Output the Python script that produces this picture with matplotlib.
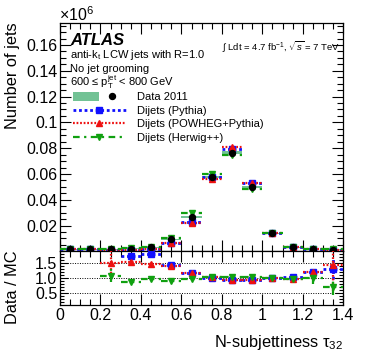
import numpy as np
import matplotlib
matplotlib.use('Agg')
import matplotlib.pyplot as plt
from matplotlib.patches import Patch
from matplotlib.lines import Line2D
from matplotlib.legend_handler import HandlerTuple
from matplotlib.ticker import MultipleLocator, FuncFormatter

plt.rcParams['font.family'] = ['Liberation Sans', 'DejaVu Sans']
plt.rcParams['mathtext.fontset'] = 'custom'
plt.rcParams['mathtext.rm'] = 'Liberation Sans'
plt.rcParams['mathtext.it'] = 'Liberation Sans:italic'
plt.rcParams['mathtext.bf'] = 'Liberation Sans:bold'

# bin centres of tau32 (width 0.1), counts in units of 1e6 jets
tau32 = np.arange(0.05, 1.4, 0.1)
data = [0.0015, 0.0015, 0.0016, 0.0019, 0.0030, 0.0092, 0.0265, 0.0575, 0.0766, 0.0497, 0.0141, 0.0031, 0.0018, 0.0014]
data_syst = [0.0002, 0.0002, 0.0002, 0.0003, 0.0004, 0.0006, 0.0009, 0.0010, 0.0010, 0.0008, 0.0004, 0.0002, 0.0002, 0.0002]
pythia = [0.0015, 0.0015, 0.0008, 0.0011, 0.0017, 0.0066, 0.0230, 0.0580, 0.0792, 0.0533, 0.0141, 0.0030, 0.0015, 0.0011]
powheg = [0.0015, 0.0015, 0.0011, 0.0012, 0.0020, 0.0065, 0.0223, 0.0564, 0.0807, 0.0528, 0.0141, 0.0031, 0.0015, 0.0010]
herwig = [0.0015, 0.0015, 0.0015, 0.0022, 0.0033, 0.0102, 0.0296, 0.0600, 0.0748, 0.0482, 0.0141, 0.0032, 0.0018, 0.0019]

# Data / MC ratios
r_pythia = [np.nan, np.nan, np.nan, 1.74, 1.80, 1.44, 1.17, 1.02, 0.95, 0.93, 1.00, 1.03, 1.20, 1.31]
r_powheg = [np.nan, np.nan, 1.50, 1.53, 1.47, 1.41, 1.17, 1.03, 0.95, 0.94, 1.00, 0.97, 1.22, 1.44]
r_herwig = [np.nan, np.nan, 1.09, 0.87, 0.97, 0.92, 0.97, 1.03, 1.04, 1.05, 1.00, 0.98, 1.00, 0.72]
e_pythia = [0, 0, 0, 0.05, 0.06, 0.03, 0.02, 0.01, 0.01, 0.01, 0.01, 0.03, 0.06, 0.35]
e_powheg = [0, 0, 0.45, 0.10, 0.06, 0.03, 0.02, 0.01, 0.01, 0.01, 0.01, 0.03, 0.08, 0.85]
e_herwig = [0, 0, 0.22, 0.05, 0.03, 0.02, 0.02, 0.01, 0.01, 0.01, 0.01, 0.03, 0.18, 0.28]

BLUE = '#1010ff'
RED = '#ee1010'
GREEN = '#10a010'
BAND = '#72c295'

styles = {
    'pythia': dict(color=BLUE, marker='s', ms=4.5, ls=(0, (1, 1)), lw=2.0),
    'powheg': dict(color=RED, marker='^', ms=4.5, ls=(0, (0.8, 0.8)), lw=1.6),
    'herwig': dict(color=GREEN, marker='v', ms=5, ls=(0, (3, 2, 1, 2)), lw=1.6),
}


def draw_series(ax, x, y, st, yerr=None):
    eb = ax.errorbar(x, y, xerr=0.05, yerr=yerr, fmt=st['marker'], color=st['color'],
                     ms=st['ms'], elinewidth=st['lw'], capsize=0, zorder=3)
    for lc in eb[2]:
        lc.set_linestyle(st['ls'])
    return eb


def style_axis(ax):
    ax.tick_params(which='both', direction='in', top=True, right=True, labelsize=11.5)
    ax.tick_params(which='major', length=8, width=0.8)
    ax.tick_params(which='minor', length=4, width=0.8)
    for s in ax.spines.values():
        s.set_linewidth(0.9)


fig = plt.figure(figsize=(3.74, 3.59), dpi=100)
ax = fig.add_axes([0.1604, 0.3017, 0.7575, 0.6351])
ax2 = fig.add_axes([0.1604, 0.1504, 0.7575, 0.1513], sharex=ax)

# main panel
for xc, yc, sy in zip(tau32, data, data_syst):
    ax.add_patch(plt.Rectangle((xc - 0.05, yc - sy), 0.1, 2 * sy, color=BAND, lw=0, zorder=1))
draw_series(ax, tau32, pythia, styles['pythia'])
draw_series(ax, tau32, powheg, styles['powheg'])
draw_series(ax, tau32, herwig, styles['herwig'])
ax.plot(tau32, data, 'o', color='black', ms=4.3, zorder=4)

ax.set_xlim(0, 1.4)
ax.set_ylim(0.0005, 0.1773)
ax.xaxis.set_major_locator(MultipleLocator(0.2))
ax.xaxis.set_minor_locator(MultipleLocator(0.05))
ax.yaxis.set_major_locator(MultipleLocator(0.02))
ax.yaxis.set_minor_locator(MultipleLocator(0.005))
ax.yaxis.set_major_formatter(FuncFormatter(lambda v, p: f'{v:g}'))
style_axis(ax)
ax.tick_params(labelbottom=False)
ax.tick_params(axis='y', pad=2)
ax.set_ylabel('Number of jets', loc='top', fontsize=11.8)
fig.text(0.158, 0.958, r'$\times10^{6}$', fontsize=11.5, va='center', ha='left')

ax.text(0.035, 0.924, 'ATLAS', transform=ax.transAxes, fontsize=12,
        fontweight='bold', fontstyle='italic', va='center')
ax.text(0.035, 0.858, r'anti-$\mathrm{k_{t}}$ LCW jets with R=1.0', transform=ax.transAxes,
        fontsize=8, va='center')
ax.text(0.035, 0.795, 'No jet grooming', transform=ax.transAxes, fontsize=8, va='center')
ax.text(0.035, 0.740, r'600 ≤ $\mathrm{p_{T}^{jet}}$ < 800 GeV', transform=ax.transAxes,
        fontsize=8, va='center')
ax.text(0.572, 0.893, r'$\int$ Ldt = 4.7 fb$^{-1}$, $\sqrt{s}$ = 7 TeV', transform=ax.transAxes,
        fontsize=6.8, va='center')

h_data = (Patch(color=BAND, lw=0), Line2D([], [], color='black', marker='o', ls='none', ms=4.3))
h_py = Line2D([], [], color=BLUE, marker='s', ms=4.5, ls=(0, (1, 1)), lw=2.0)
h_pw = Line2D([], [], color=RED, marker='^', ms=4.5, ls=(0, (0.8, 0.8)), lw=1.6)
h_hw = Line2D([], [], color=GREEN, marker='v', ms=5, ls=(0, (3, 2, 1, 2)), lw=1.6)
leg = ax.legend([h_data, h_py, h_pw, h_hw],
                ['Data 2011', 'Dijets (Pythia)', 'Dijets (POWHEG+Pythia)', 'Dijets (Herwig++)'],
                handler_map={tuple: HandlerTuple(ndivide=None, pad=0)},
                loc='upper left', bbox_to_anchor=(0.047, 0.697), frameon=False, fontsize=8,
                handlelength=4.7, handleheight=0.9, handletextpad=1.05, labelspacing=0.28,
                borderpad=0, borderaxespad=0, numpoints=1)

# ratio panel
for lvl in (0.5, 1.0, 1.5):
    ax2.axhline(lvl, color='black', ls=(0, (1, 1.5)), lw=0.7, zorder=0)
draw_series(ax2, tau32, r_pythia, styles['pythia'], yerr=e_pythia)
draw_series(ax2, tau32, r_powheg, styles['powheg'], yerr=e_powheg)
draw_series(ax2, tau32, r_herwig, styles['herwig'], yerr=e_herwig)
ax2.set_ylim(0.11, 1.92)
ax2.yaxis.set_major_locator(MultipleLocator(0.5))
ax2.yaxis.set_minor_locator(MultipleLocator(0.1))
ax2.yaxis.set_major_formatter(FuncFormatter(lambda v, p: f'{v:.1f}'))
style_axis(ax2)
ax2.tick_params(which='major', axis='y', length=6, pad=2)
ax2.tick_params(which='minor', axis='y', length=3)
ax2.set_xticks(np.arange(0, 1.41, 0.2))
ax2.xaxis.set_major_formatter(FuncFormatter(lambda v, p: f'{v:g}'))
ax2.tick_params(axis='x', pad=2.5)
ax2.set_ylabel('Data / MC', loc='top', fontsize=11.8)
ax2.set_xlabel(r'N-subjettiness $\mathrm{\tau_{32}}$', loc='right', fontsize=11.8, labelpad=7)
ax.yaxis.set_label_coords(-0.14, 1.0)
ax2.yaxis.set_label_coords(-0.14, 1.0)

fig.savefig('out.png', dpi=100)
